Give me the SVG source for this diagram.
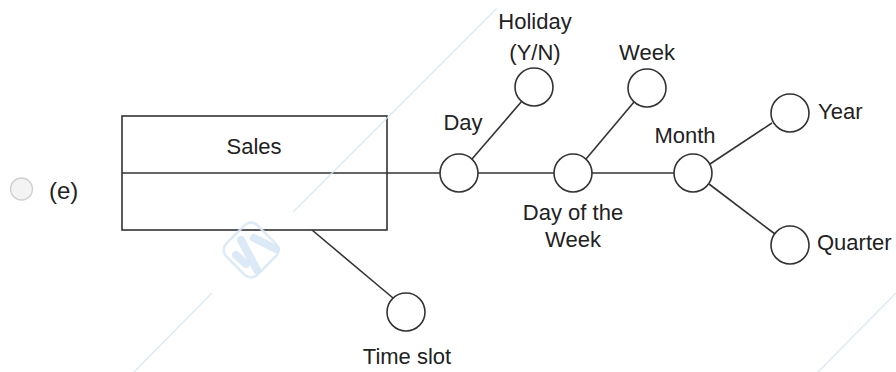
<svg xmlns="http://www.w3.org/2000/svg" width="896" height="372" viewBox="0 0 896 372">
<style>
.t{font-family:"Liberation Sans",Arial,sans-serif;font-size:22px;fill:#222}
.n{fill:#fff;stroke:#333;stroke-width:1.6}
.c{stroke:#333;stroke-width:1.6;fill:none}
.wm{stroke:#d6e7f6;stroke-width:1.5;fill:none;opacity:0.85}
.ws{stroke:#d6e7f6;stroke-width:8;stroke-linecap:round;opacity:0.85}
</style>
<rect width="896" height="372" fill="#fff"/>
<g id="option">
<circle cx="21.5" cy="189" r="11" fill="#f3f3f3" stroke="#cfcfcf" stroke-width="1.3"/>
<text class="t" x="49" y="199" style="font-size:24px">(e)</text>
</g>
<g id="connectors">
<line class="c" x1="387" y1="173" x2="440" y2="173"/>
<line class="c" x1="478" y1="173" x2="554" y2="173"/>
<line class="c" x1="592" y1="173" x2="674" y2="173"/>
<line class="c" x1="472" y1="159" x2="522" y2="101"/>
<line class="c" x1="586" y1="159" x2="634" y2="102"/>
<line class="c" x1="710" y1="164" x2="772" y2="123"/>
<line class="c" x1="709" y1="184" x2="775" y2="234"/>
<line class="c" x1="312" y1="230" x2="393" y2="298"/>
</g>
<g id="sales">
<rect class="n" x="122" y="116" width="265" height="114"/>
<line class="c" x1="122" y1="173" x2="387" y2="173"/>
<text class="t" x="254" y="154" text-anchor="middle">Sales</text>
</g>
<g id="day">
<circle class="n" cx="459" cy="173" r="19"/>
<text class="t" x="463" y="130" text-anchor="middle">Day</text>
</g>
<g id="holiday">
<circle class="n" cx="534" cy="87" r="19"/>
<text class="t" x="535" y="29" text-anchor="middle">Holiday</text>
<text class="t" x="535" y="60" text-anchor="middle">(Y/N)</text>
</g>
<g id="dayofweek">
<circle class="n" cx="573" cy="173" r="19"/>
<text class="t" x="573" y="220" text-anchor="middle">Day of the</text>
<text class="t" x="573" y="247" text-anchor="middle">Week</text>
</g>
<g id="week">
<circle class="n" cx="647" cy="88" r="19"/>
<text class="t" x="647" y="60" text-anchor="middle">Week</text>
</g>
<g id="month">
<circle class="n" cx="693" cy="173" r="19"/>
<text class="t" x="685" y="143" text-anchor="middle">Month</text>
</g>
<g id="year">
<circle class="n" cx="790" cy="113" r="19"/>
<text class="t" x="818" y="119">Year</text>
</g>
<g id="quarter">
<circle class="n" cx="790" cy="245" r="19"/>
<text class="t" x="817" y="250">Quarter</text>
</g>
<g id="timeslot">
<circle class="n" cx="406" cy="312" r="19"/>
<text class="t" x="407" y="364" text-anchor="middle">Time slot</text>
</g>
<g id="watermark">
<line class="wm" x1="497" y1="8" x2="293" y2="212"/>
<line class="wm" x1="212" y1="293" x2="134" y2="372"/>
<line class="wm" x1="896" y1="293" x2="818" y2="372"/>
<rect x="-22" y="-22" width="44" height="44" rx="9" fill="none" stroke="#d6e7f6" stroke-width="2.5" opacity="0.85" transform="translate(251,250) rotate(45)"/>
<line class="ws" x1="236" y1="255" x2="246" y2="264"/>
<line class="ws" x1="241" y1="240" x2="257" y2="270"/>
<line class="ws" x1="254" y1="238" x2="276" y2="249"/>
</g>
</svg>
